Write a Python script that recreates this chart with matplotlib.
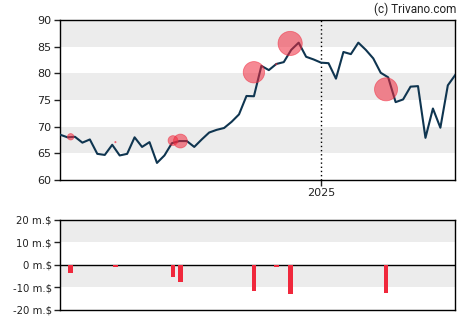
import pandas as pd
import numpy as np
import matplotlib.pyplot as plt
import matplotlib.dates as mdates

# Weekly closing prices
start = pd.Timestamp("2024-05-01")
close = [68.5, 68.0, 68.1, 67.0, 67.6, 64.9, 64.7, 66.6, 64.6, 64.9,
         68.0, 66.2, 67.1, 63.2, 64.6, 66.9, 67.3, 67.3, 66.2, 67.6,
         68.9, 69.4, 69.75, 70.9, 72.3, 75.75, 75.7, 81.4, 80.6, 81.75,
         82.1, 84.4, 85.75, 83.1, 82.6, 82.0, 81.9, 79.0, 84.0, 83.6,
         85.75, 84.4, 82.8, 80.1, 79.25, 74.6, 75.1, 77.5, 77.6, 67.9,
         73.4, 69.8, 77.75, 79.7]
dates = pd.date_range(start, periods=len(close), freq="7D")

# Insider trades: days after start, price, value in millions $
trade_days = [10, 52, 106, 113, 182, 203, 216, 306]
trade_price = [68.1, 67.1, 67.4, 67.3, 80.2, 81.7, 85.6, 77.0]
trade_value = [-3.4, -0.7, -5.2, -7.4, -11.4, -0.7, -12.9, -12.3]
trade_dates = [start + pd.Timedelta(days=d) for d in trade_days]

line_col = "#0f3550"
red = "#f0283c"
band = "#ececec"
txt = "#222222"

fig = plt.figure(figsize=(4.7, 3.25), dpi=100)
ax = fig.add_axes([0.1277, 0.4462, 0.841, 0.4923])
ax2 = fig.add_axes([0.1277, 0.0462, 0.841, 0.2769], sharex=ax)

xmin, xmax = dates[0], dates[-1]

# price panel
for lo in (65, 75, 85):
    ax.axhspan(lo, lo + 5, color=band, lw=0, zorder=0)
ax.axvline(pd.Timestamp("2025-01-01"), color="black", ls=(0, (1, 2)), lw=1, zorder=1)
ax.plot(dates, close, color=line_col, lw=1.5, zorder=3)
sizes = [(1.35 * abs(v)) ** 2 for v in trade_value]
ax.scatter(trade_dates, trade_price, s=sizes, color=red, alpha=0.55,
           edgecolors=red, linewidths=0.6, zorder=4)
ax.set_ylim(60, 90)
ax.set_yticks([60, 65, 70, 75, 80, 85, 90])
ax.set_xlim(xmin, xmax)
ax.set_xticks([pd.Timestamp("2025-01-01")])
ax.xaxis.set_major_formatter(mdates.DateFormatter("%Y"))

# trade volume panel
ax2.axhspan(10, 20, color=band, lw=0, zorder=0)
ax2.axhspan(-10, 0, color=band, lw=0, zorder=0)
ax2.axhline(0, color="black", lw=1, zorder=2)
ax2.bar(trade_dates, trade_value, width=4.5, color=red, zorder=3)
ax2.set_ylim(-20, 20)
ax2.set_yticks([-20, -10, 0, 10, 20])
ax2.set_yticklabels([f"{v} m.$" for v in [-20, -10, 0, 10, 20]])
ax2.tick_params(axis="x", bottom=False, labelbottom=False)

for a in (ax, ax2):
    for s in a.spines.values():
        s.set_linewidth(1)
    a.tick_params(axis="both", labelsize=8, colors=txt, length=4, width=1, pad=2)
ax2.tick_params(axis="y", labelsize=7.3)

fig.text(0.972, 0.993, "(c) Trivano.com", ha="right", va="top",
         fontsize=8.5, family="Roboto", color=txt)

plt.savefig("out.png", dpi=100)
